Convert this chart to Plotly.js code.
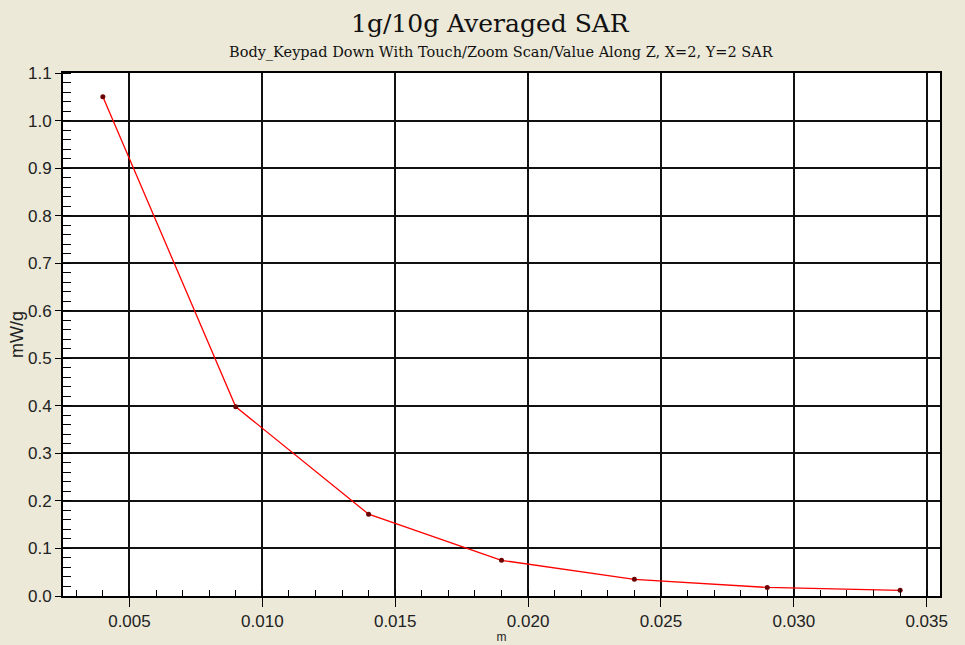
<!DOCTYPE html>
<html>
<head>
<meta charset="utf-8">
<script src="https://cdn.plot.ly/plotly-3.0.1.min.js"></script>
<style>html,body{margin:0;padding:0;background:#ECE9D8;}#chart{width:965px;height:645px;}</style>
</head>
<body>
<div id="chart"></div>
<script>
// Data
const distance_m = [0.004, 0.009, 0.014, 0.019, 0.024, 0.029, 0.034];
const sar_mWg = [1.05, 0.398, 0.172, 0.075, 0.035, 0.018, 0.012];
const titleText = "1g/10g Averaged SAR";
const subtitleText = "Body_Keypad Down With Touch/Zoom Scan/Value Along Z, X=2, Y=2 SAR";
const xLabel = "m";
const yLabel = "mW/g";

const trace = {
  x: distance_m,
  y: sar_mWg,
  type: "scatter",
  mode: "lines+markers",
  line: {color: "#ff0000", width: 1.3},
  marker: {color: "#6a0000", size: 5},
  hoverinfo: "x+y",
  showlegend: false
};

const layout = {
  width: 965, height: 645,
  paper_bgcolor: "#ECE9D8",
  plot_bgcolor: "#ffffff",
  margin: {l: 63, r: 25, t: 73, b: 49},
  font: {family: "Liberation Sans, Arial, sans-serif", color: "#222"},
  xaxis: {
    range: [0.0025, 0.0355],
    dtick: 0.005, tick0: 0.005,
    tickformat: ".3f",
    ticks: "outside", ticklen: 9, tickcolor: "#000", tickwidth: 1,
    showgrid: true, gridcolor: "#111", gridwidth: 2,
    zeroline: false,
    showline: true, linecolor: "#000", linewidth: 2, mirror: true,
    tickfont: {size: 17, color: "#222"},
    minor: {dtick: 0.001, ticks: "inside", ticklen: 6, tickcolor: "#000", showgrid: false},
    title: {text: xLabel, font: {size: 12, color: "#222"}, standoff: 2}
  },
  yaxis: {
    range: [0, 1.1],
    dtick: 0.1, tick0: 0,
    tickformat: ".1f",
    ticks: "outside", ticklen: 6, tickcolor: "#000", tickwidth: 1,
    showgrid: true, gridcolor: "#111", gridwidth: 2,
    zeroline: false,
    showline: true, linecolor: "#000", linewidth: 2, mirror: true,
    tickfont: {size: 17, color: "#222"},
    minor: {dtick: 0.02, ticks: "inside", ticklen: 8, tickcolor: "#000", showgrid: false},
    title: {text: yLabel, font: {size: 18, color: "#222"}, standoff: 0}
  },
  annotations: [
    {text: titleText, xref: "paper", yref: "paper", x: 0.487, y: 1, yshift: 50, showarrow: false,
     font: {family: "DejaVu Serif, Liberation Serif, serif", size: 25, color: "#111"}, xanchor: "center", yanchor: "middle"},
    {text: subtitleText, xref: "paper", yref: "paper", x: 0.5, y: 1, yshift: 21, showarrow: false,
     font: {family: "DejaVu Serif, Liberation Serif, serif", size: 14.5, color: "#111"}, xanchor: "center", yanchor: "middle"}
  ]
};

Plotly.newPlot("chart", [trace], layout, {displayModeBar: false, staticPlot: true});
</script>
</body>
</html>
